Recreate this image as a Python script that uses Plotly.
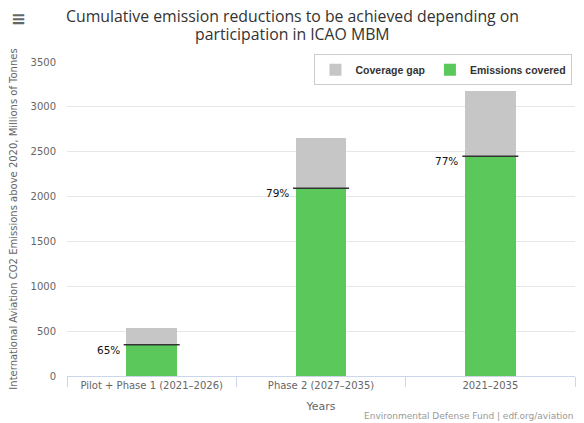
import plotly.graph_objects as go

categories = ['Pilot + Phase 1 (2021–2026)', 'Phase 2 (2027–2035)', '2021–2035']
emissions_covered = [348, 2094, 2449]
coverage_gap = [187, 556, 731]
pct_labels = ['65%', '79%', '77%']

GREEN = '#5ac85a'
GREY = '#c6c6c6'
FONT = 'DejaVu Sans'

fig = go.Figure()
fig.add_trace(go.Bar(x=categories, y=emissions_covered, name='Emissions covered',
                     marker=dict(color=GREEN, line=dict(width=0)), width=0.3))
fig.add_trace(go.Bar(x=categories, y=coverage_gap, name='Coverage gap',
                     marker=dict(color=GREY, line=dict(width=0)), width=0.3))
# dark line at the top of the covered segment
fig.add_trace(go.Scatter(x=categories, y=emissions_covered, mode='markers', showlegend=False,
                         hoverinfo='skip',
                         marker=dict(symbol='line-ew', size=40, line=dict(color='#333333', width=1.5))))

for cat, val, lab in zip(categories, emissions_covered, pct_labels):
    fig.add_annotation(x=cat, y=val, text=lab, showarrow=False, xanchor='right',
                       xshift=-30, yshift=-5, font=dict(family=FONT, size=10.5, color='#111111'))

fig.add_annotation(xref='paper', yref='paper', x=1.0, y=-0.127, xanchor='right', yanchor='middle',
                   text='Environmental Defense Fund | edf.org/aviation', showarrow=False,
                   font=dict(family=FONT, size=9, color='#999999'))
fig.add_annotation(xref='paper', yref='paper', x=-0.0945, y=1.14, xanchor='center', yanchor='middle',
                   text='<b>≡</b>', showarrow=False, font=dict(family=FONT, size=18, color='#666666'))
# title, one annotation per line
for line, ypos in [('Cumulative emission reductions to be achieved depending on', 1.1465),
                   ('participation in ICAO MBM', 1.0892)]:
    fig.add_annotation(xref='paper', yref='paper', x=0.443, y=ypos, xanchor='center', yanchor='middle',
                       text=line, showarrow=False, font=dict(family='Open Sans', size=15.8, color='#333333'))

# page body has an 8px margin, so the figure is 8px smaller and margins shifted
fig.update_layout(
    width=576, height=415,
    margin=dict(l=59, r=9, t=54, b=47),
    barmode='stack',
    paper_bgcolor='white', plot_bgcolor='white',
    legend=dict(orientation='h', traceorder='reversed', x=0.995, xanchor='right', y=1.025, yanchor='top',
                bordercolor='#cccccc', borderwidth=1, bgcolor='white', itemwidth=30,
                font=dict(family='Liberation Sans', size=10.5, color='#333333', weight='bold')),
    showlegend=True,
)
fig.update_xaxes(showline=True, linecolor='#ccd6eb', linewidth=1, ticks='outside', tickson='boundaries',
                 ticklen=10, tickcolor='#ccd6eb', tickfont=dict(family=FONT, size=10, color='#666666'),
                 automargin=False,
                 title=dict(text='Years', font=dict(family=FONT, size=11, color='#666666'), standoff=12))
fig.update_yaxes(range=[0, 3500], dtick=500, showgrid=True, gridcolor='#e6e6e6', zeroline=False,
                 tickfont=dict(family=FONT, size=10, color='#666666'), ticklabelstandoff=10,
                 automargin=False,
                 title=dict(text='International Aviation CO2 Emissions above 2020, Millions of Tonnes',
                            font=dict(family=FONT, size=10, color='#666666'), standoff=19))

fig.write_html('out.html')
